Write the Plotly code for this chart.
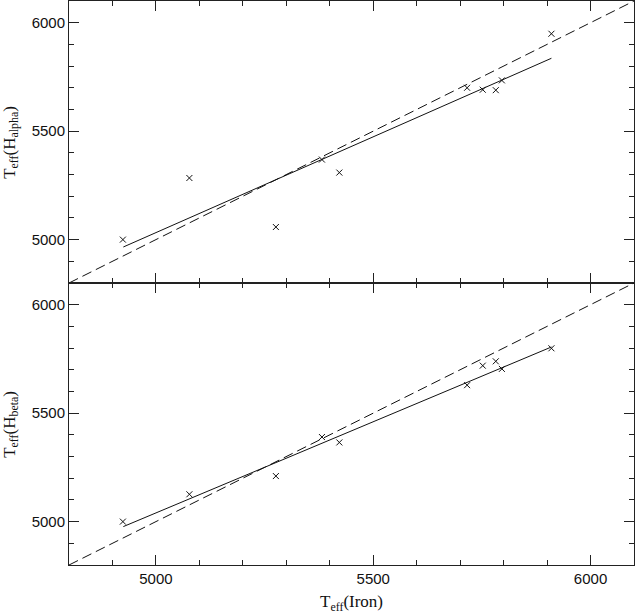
import plotly.graph_objects as go
from plotly.subplots import make_subplots

# Data
t_iron = [4924, 5077, 5276, 5382, 5422, 5716, 5752, 5782, 5796, 5910]
t_halpha = [5000, 5284, 5058, 5369, 5309, 5700, 5691, 5689, 5734, 5949]
t_hbeta = [5000, 5126, 5210, 5390, 5365, 5629, 5719, 5739, 5704, 5799]

fit_x = [4925, 5910]
fit_halpha = [4966, 5836]
fit_hbeta = [4977, 5805]

one_to_one = [4800, 6100]

axis_range = [4800, 6100]
major_step = 500
minor_step = 100

x_title = "T<sub>eff</sub>(Iron)"
y_titles = ["T<sub>eff</sub>(H<sub>alpha</sub>)", "T<sub>eff</sub>(H<sub>beta</sub>)"]

fig = make_subplots(rows=2, cols=1, shared_xaxes=True, vertical_spacing=0)

line_col = "#111111"
for row, yvals, fity in [(1, t_halpha, fit_halpha), (2, t_hbeta, fit_hbeta)]:
    fig.add_trace(go.Scatter(x=one_to_one, y=one_to_one, mode="lines",
                             line=dict(color=line_col, width=1, dash="10px,5px"),
                             showlegend=False, hoverinfo="skip"), row=row, col=1)
    fig.add_trace(go.Scatter(x=fit_x, y=fity, mode="lines",
                             line=dict(color=line_col, width=1),
                             showlegend=False), row=row, col=1)
    fig.add_trace(go.Scatter(x=t_iron, y=yvals, mode="markers",
                             marker=dict(symbol="x-thin", size=6,
                                         line=dict(color=line_col, width=1)),
                             showlegend=False), row=row, col=1)

axis_common = dict(
    range=axis_range, showline=True, linecolor="#222222", linewidth=1,
    mirror="allticks", ticks="inside", ticklen=10, tickwidth=1, tickcolor="#222222",
    tickmode="linear", tick0=5000, dtick=major_step,
    showgrid=False, zeroline=False, automargin=False,
    minor=dict(ticks="inside", ticklen=5, tickwidth=1, tickcolor="#222222",
               tickmode="linear", tick0=4800, dtick=minor_step, showgrid=False),
    tickfont=dict(family="Liberation Sans, Arial, sans-serif", size=15, color="#111111"),
)

fig.update_xaxes(**axis_common)
fig.update_yaxes(**axis_common)
fig.update_xaxes(showticklabels=False, row=1, col=1)

title_font = dict(family="Liberation Serif, Times New Roman, serif", size=17, color="#111111")
fig.add_annotation(text=x_title, xref="paper", yref="paper", x=0.5, y=-0.068,
                   xanchor="center", yanchor="middle", showarrow=False, font=title_font)
fig.add_annotation(text=y_titles[0], xref="paper", yref="paper", x=-0.103, y=0.75,
                   xanchor="center", yanchor="middle", textangle=-90,
                   showarrow=False, font=title_font)
fig.add_annotation(text=y_titles[1], xref="paper", yref="paper", x=-0.103, y=0.25,
                   xanchor="center", yanchor="middle", textangle=-90,
                   showarrow=False, font=title_font)

fig.update_layout(
    width=635, height=614,
    margin=dict(l=69, r=1, t=1, b=49),
    paper_bgcolor="white", plot_bgcolor="white",
    showlegend=False,
)

fig.write_html("out.html", config={"displayModeBar": False},
               post_script="document.body.style.margin='0';document.body.style.padding='0';")
